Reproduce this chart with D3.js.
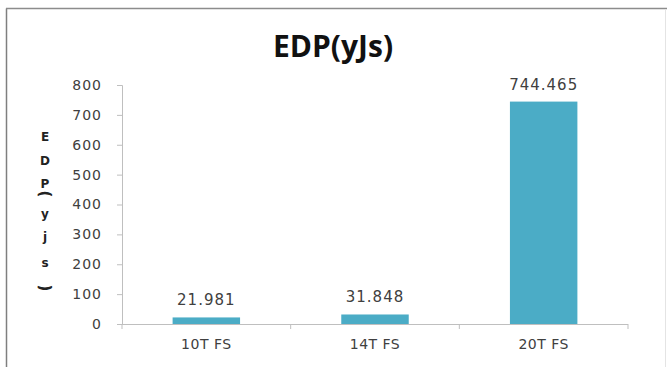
<!DOCTYPE html>
<html>
<head>
<meta charset="utf-8">
<script src="https://cdn.jsdelivr.net/npm/d3@7/dist/d3.min.js"></script>
<style>
  html, body { margin: 0; padding: 0; background: #fff; }
  svg { display: block; }
</style>
</head>
<body>
<svg id="chart" width="667" height="367"></svg>
<script>
const categories = ["10T FS", "14T FS", "20T FS"];
const values = [21.981, 31.848, 744.465];
const valueLabels = ["21.981", "31.848", "744.465"];
const yTicks = [0, 100, 200, 300, 400, 500, 600, 700, 800];
const titleText = "EDP(yJs)";
const yTitleChars = ["E", "D", "P", "(", "y", "j", "s", ")"];

const W = 667, H = 367;
const margin = { left: 122, right: 39, top: 85, bottom: 43 };
const svg = d3.select("#chart");

// chart frame
svg.append("line").attr("x1", 6.5).attr("y1", 8.5).attr("x2", 6.5).attr("y2", H)
  .attr("stroke", "#7f7f7f").attr("stroke-width", 1.5);
svg.append("line").attr("x1", 6).attr("y1", 8.5).attr("x2", W).attr("y2", 8.5)
  .attr("stroke", "#8c8c8c").attr("stroke-width", 1.5);
svg.append("line").attr("x1", 665.5).attr("y1", 9).attr("x2", 665.5).attr("y2", H)
  .attr("stroke", "#e4e4e4").attr("stroke-width", 1);

const x = d3.scaleBand().domain(categories)
  .range([margin.left, W - margin.right]).paddingInner(0.6).paddingOuter(0.3);
const y = d3.scaleLinear().domain([0, 800]).range([H - margin.bottom, margin.top]);

// title
svg.append("text").attr("x", 333).attr("y", 57)
  .attr("text-anchor", "middle")
  .attr("font-family", "Open Sans, sans-serif").attr("font-weight", 700)
  .attr("font-size", 30).attr("fill", "#111").text(titleText);

// y axis
const yAxis = d3.axisLeft(y).tickValues(yTicks).tickSize(5).tickPadding(15);
const gy = svg.append("g").attr("transform", `translate(${margin.left},0)`).call(yAxis);
gy.select(".domain").attr("stroke", "#bfbfbf");
gy.selectAll(".tick line").attr("stroke", "#bfbfbf");
gy.selectAll(".tick text").attr("font-family", "DejaVu Sans, sans-serif")
  .attr("font-size", 14).attr("letter-spacing", 1).attr("fill", "#404040");

// x axis with ticks at category boundaries
const xAxis = d3.axisBottom(x).tickSize(0).tickPadding(15);
const gx = svg.append("g").attr("transform", `translate(0,${y(0)})`).call(xAxis);
gx.select(".domain").remove();
gx.selectAll(".tick text").attr("font-family", "DejaVu Sans, sans-serif")
  .attr("font-size", 14).attr("letter-spacing", 0.5).attr("fill", "#404040");
const bounds = d3.range(categories.length + 1).map(i => margin.left + i * (W - margin.left - margin.right) / categories.length);
svg.append("line").attr("x1", margin.left).attr("x2", W - margin.right)
  .attr("y1", y(0) + 0.5).attr("y2", y(0) + 0.5).attr("stroke", "#bfbfbf");
svg.selectAll("line.xb").data(bounds).join("line").attr("class", "xb")
  .attr("x1", d => d).attr("x2", d => d)
  .attr("y1", y(0)).attr("y2", y(0) + 5).attr("stroke", "#bfbfbf");

// bars
svg.selectAll("rect.bar").data(values).join("rect").attr("class", "bar")
  .attr("x", (d, i) => x(categories[i]))
  .attr("width", x.bandwidth())
  .attr("y", d => y(d))
  .attr("height", d => y(0) - y(d))
  .attr("fill", "#4bacc6");

// value labels
svg.selectAll("text.val").data(values).join("text").attr("class", "val")
  .attr("x", (d, i) => x(categories[i]) + x.bandwidth() / 2)
  .attr("y", d => y(d) - 12)
  .attr("text-anchor", "middle")
  .attr("font-family", "DejaVu Sans, sans-serif").attr("font-size", 15)
  .attr("letter-spacing", 1)
  .attr("fill", "#404040")
  .text((d, i) => valueLabels[i]);

// stacked y-axis title
const yPos = [137, 161, 184, 194, 214, 237, 263, 288];
svg.selectAll("text.yt").data(yTitleChars).join("text").attr("class", "yt")
  .attr("font-family", "DejaVu Sans, sans-serif").attr("font-weight", 700)
  .attr("font-size", d => (d === "(" || d === ")") ? 15 : 12).attr("fill", "#222")
  .attr("text-anchor", "middle").attr("dominant-baseline", "central")
  .attr("transform", (d, i) => (d === "(" || d === ")")
    ? `translate(45,${yPos[i]}) rotate(90)`
    : `translate(45,${yPos[i]})`)
  .text(d => d);
</script>
</body>
</html>
